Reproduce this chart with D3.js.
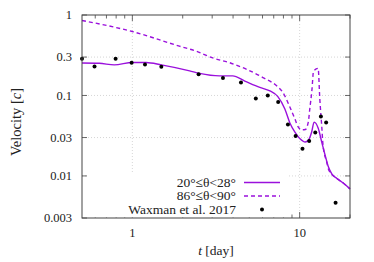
<!DOCTYPE html>
<html>
<head>
<meta charset="utf-8">
<script src="https://cdn.jsdelivr.net/npm/d3@7"></script>
<style>
  body { margin: 0; background: #fff; }
  svg text { font-family: "Liberation Serif", "Times New Roman", "DejaVu Serif", serif; fill: #222; }
</style>
</head>
<body>
<div id="chart"></div>
<script>
// solid curve: 20 <= theta < 28
var solidT = [0.5, 0.634, 0.78, 1, 1.21, 1.49, 2.2, 2.52, 3.32, 3.98, 4.7, 5.78, 6.64, 7.41, 8.16, 8.74, 9.37, 10.05, 10.8, 11.27, 11.8, 12.2, 12.9, 13.55, 14.2, 14.85, 15.6, 16.7, 18.3, 20];
var solidV = [0.253, 0.251, 0.240, 0.257, 0.257, 0.240, 0.202, 0.188, 0.175, 0.175, 0.151, 0.126, 0.114, 0.0967, 0.0679, 0.0456, 0.0351, 0.029, 0.0264, 0.0277, 0.0351, 0.0466, 0.0393, 0.0264, 0.0181, 0.013, 0.0105, 0.0093, 0.0081, 0.0069];

// dashed curve: 86 <= theta < 90
var dashT = [0.5, 1, 1.91, 2.42, 3.02, 3.82, 4.83, 6.03, 7.31, 7.94, 8.74, 9.37, 9.82, 10.3, 10.8, 11.27, 11.5, 11.85, 12.1, 12.9, 13.2, 13.55, 13.8, 14.5, 14.97, 16.7, 18.3, 20];
var dashV = [0.855, 0.623, 0.41, 0.354, 0.293, 0.255, 0.211, 0.167, 0.131, 0.109, 0.0718, 0.051, 0.0404, 0.0374, 0.0377, 0.047, 0.068, 0.119, 0.199, 0.217, 0.09, 0.042, 0.024, 0.015, 0.0117, 0.0093, 0.0081, 0.0069];

// Waxman et al. 2017
var obsT = [0.5, 0.594, 0.794, 0.99, 1.19, 1.49, 2.49, 3.48, 4.46, 5.47, 6.45, 7.44, 8.51, 9.46, 10.4, 11.4, 12.4, 13.4, 14.4, 16.4];
var obsV = [0.285, 0.229, 0.285, 0.255, 0.243, 0.227, 0.184, 0.165, 0.145, 0.092, 0.1, 0.083, 0.0436, 0.0313, 0.0217, 0.0272, 0.0347, 0.0546, 0.046, 0.00464];

var yTicks = [1, 0.3, 0.1, 0.03, 0.01, 0.003];
var yTickLabels = ["1", "0.3", "0.1", "0.03", "0.01", "0.003"];
var xTicks = [1, 10];
var xMinor = [0.6, 0.7, 0.8, 0.9, 2, 3, 4, 5, 6, 7, 8, 9, 20];
var keyLabels = ["20\u00b0\u2264\u03b8<28\u00b0", "86\u00b0\u2264\u03b8<90\u00b0", "Waxman et al. 2017"];

var W = 374, H = 262;
var L = 82, R = 350, T = 15, B = 218;
var purple = "#9a10dc";

var svg = d3.select("#chart").append("svg")
  .attr("width", W).attr("height", H);

var x = d3.scaleLog().domain([0.5, 20]).range([L, R]);
var y = d3.scaleLog().domain([0.003, 1]).range([B, T]);

// grid
svg.append("g").selectAll("line").data(xTicks).enter().append("line")
  .attr("x1", function(d) { return x(d); }).attr("x2", function(d) { return x(d); })
  .attr("y1", T).attr("y2", B)
  .attr("stroke", "#bbb").attr("stroke-width", 0.6).attr("stroke-dasharray", "1,2");
svg.append("g").selectAll("line").data(yTicks.slice(1, 5)).enter().append("line")
  .attr("x1", L).attr("x2", R)
  .attr("y1", function(d) { return y(d); }).attr("y2", function(d) { return y(d); })
  .attr("stroke", "#bbb").attr("stroke-width", 0.6).attr("stroke-dasharray", "1,2");

// ticks (inward) on all four sides
var tk = svg.append("g").attr("stroke", "#444").attr("stroke-width", 0.8);
xMinor.concat(xTicks).forEach(function(d) {
  var len = xTicks.indexOf(d) >= 0 ? 6 : 3.5;
  tk.append("line").attr("x1", x(d)).attr("x2", x(d)).attr("y1", B).attr("y2", B - len);
  tk.append("line").attr("x1", x(d)).attr("x2", x(d)).attr("y1", T).attr("y2", T + len);
});
yTicks.forEach(function(d) {
  tk.append("line").attr("x1", L).attr("x2", L + 5).attr("y1", y(d)).attr("y2", y(d));
  tk.append("line").attr("x1", R).attr("x2", R - 5).attr("y1", y(d)).attr("y2", y(d));
});

// tick labels
svg.append("g").selectAll("text").data(yTicks).enter().append("text")
  .attr("x", L - 10).attr("y", function(d) { return y(d); })
  .attr("dy", "0.35em").attr("text-anchor", "end").attr("font-size", "12.5px")
  .text(function(d, i) { return yTickLabels[i]; });
svg.append("g").selectAll("text").data(xTicks).enter().append("text")
  .attr("x", function(d) { return x(d); }).attr("y", 236.5)
  .attr("text-anchor", "middle").attr("font-size", "12.5px")
  .text(function(d) { return d; });

// curves
var line = d3.line()
  .x(function(d) { return x(d[0]); })
  .y(function(d) { return y(d[1]); })
  .curve(d3.curveMonotoneX);

svg.append("path").datum(d3.zip(dashT, dashV))
  .attr("d", line).attr("fill", "none")
  .attr("stroke", purple).attr("stroke-width", 1.4).attr("stroke-dasharray", "4,3");
svg.append("path").datum(d3.zip(solidT, solidV))
  .attr("d", line).attr("fill", "none")
  .attr("stroke", purple).attr("stroke-width", 1.4);

// points
svg.append("g").selectAll("circle").data(d3.zip(obsT, obsV)).enter().append("circle")
  .attr("cx", function(d) { return x(d[0]); })
  .attr("cy", function(d) { return y(d[1]); })
  .attr("r", 2).attr("fill", "#000");

// key (opaque)
svg.append("rect").attr("x", 88).attr("y", 173).attr("width", 200).attr("height", B - 173.5)
  .attr("fill", "#fff");
var key = svg.append("g").attr("font-size", "13.5px");
var rows = [182.5, 196, 209.5];
key.selectAll("text").data(keyLabels).enter().append("text")
  .attr("x", 236).attr("y", function(d, i) { return rows[i]; })
  .attr("dy", "0.33em").attr("text-anchor", "end")
  .text(function(d) { return d; });
key.append("line").attr("x1", 244).attr("x2", 280).attr("y1", rows[0]).attr("y2", rows[0])
  .attr("stroke", purple).attr("stroke-width", 1.4);
key.append("line").attr("x1", 244).attr("x2", 280).attr("y1", rows[1]).attr("y2", rows[1])
  .attr("stroke", purple).attr("stroke-width", 1.4).attr("stroke-dasharray", "4,3");
key.append("circle").attr("cx", 262).attr("cy", rows[2]).attr("r", 2).attr("fill", "#000");

// frame
svg.append("rect").attr("x", L).attr("y", T).attr("width", R - L).attr("height", B - T)
  .attr("fill", "none").attr("stroke", "#444").attr("stroke-width", 1);

// axis labels
var xl = svg.append("text").attr("x", 216).attr("y", 255).attr("text-anchor", "middle").attr("font-size", "13.5px");
xl.append("tspan").attr("font-style", "italic").text("t");
xl.append("tspan").text(" [day]");
var yl = svg.append("text").attr("transform", "translate(21,122) rotate(-90)")
  .attr("text-anchor", "middle").attr("font-size", "14.5px");
yl.append("tspan").text("Velocity [");
yl.append("tspan").attr("font-style", "italic").text("c");
yl.append("tspan").text("]");
</script>
</body>
</html>
